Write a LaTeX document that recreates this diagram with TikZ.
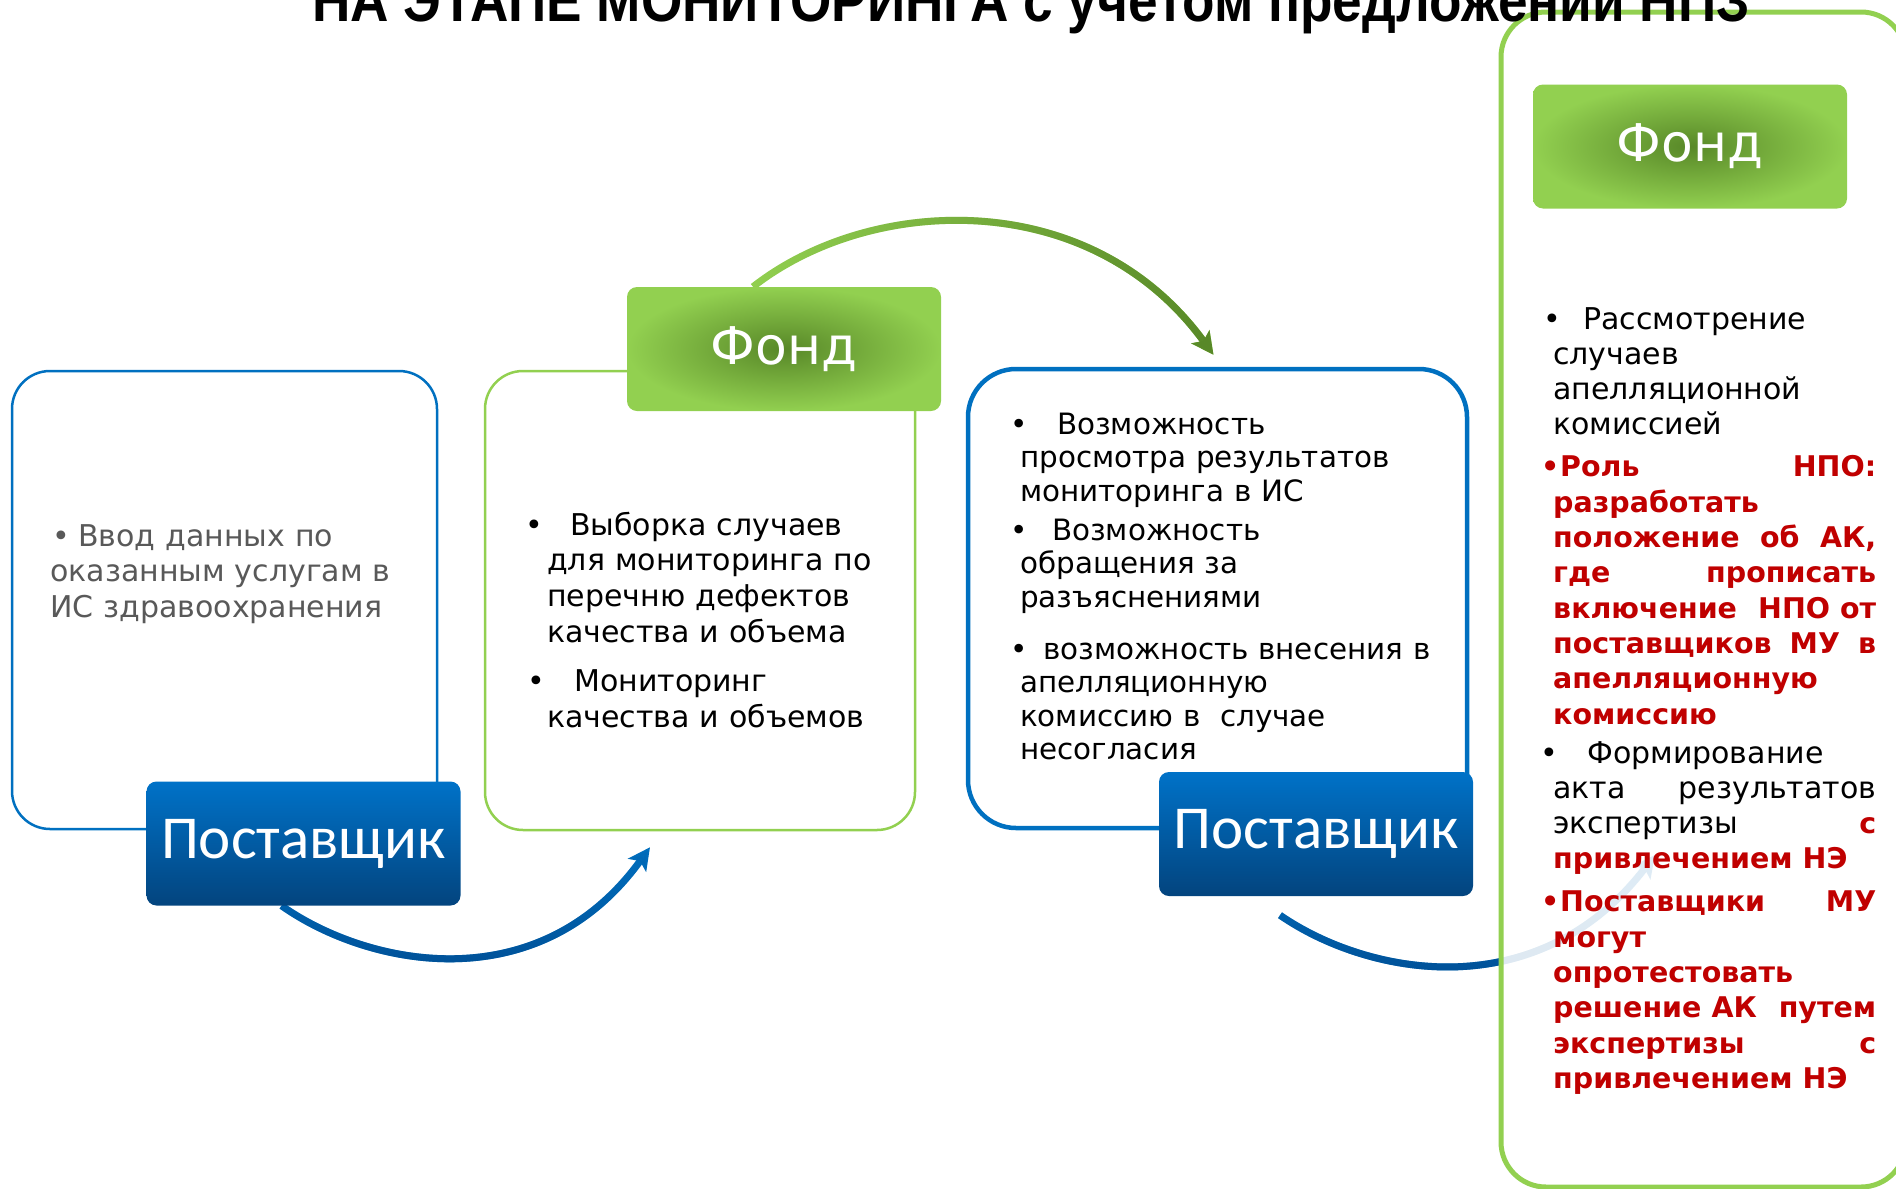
\documentclass[tikz,border=0pt]{standalone}
\usepackage{fontspec}
\usepackage{graphicx}
\setmainfont{DejaVu Sans}
\newfontfamily\headfont{Carlito}
\newfontfamily\titlefont{Liberation Sans}
\usetikzlibrary{arrows.meta, fadings, backgrounds}

\definecolor{blueline}{RGB}{0,112,192}
\definecolor{greenline}{RGB}{146,208,80}
\definecolor{greendark}{RGB}{88,136,40}
\definecolor{bluetop}{RGB}{0,114,200}
\definecolor{bluebottom}{RGB}{3,68,126}
\definecolor{bluedark}{RGB}{0,72,140}
\definecolor{npored}{RGB}{192,0,0}
\definecolor{graytext}{RGB}{89,89,89}

% bullet: shift from the margin, then start of the text
\newcommand{\bul}[2]{\hspace*{#1}\makebox[\dimexpr#2-#1\relax][l]{•}}
\newcommand{\hl}{\color{npored}\bfseries\fontsize{28.5}{35.3}\selectfont}

\begin{document}
\begin{tikzpicture}[x=1pt, y=-1pt,
    % Define the style for each block
    stagebox/.style={rectangle, draw, fill=white, inner sep=0pt},
    fondhead/.style={rectangle, rounded corners=10pt, minimum width=314pt, minimum height=124pt, inner color=greendark, outer color=greenline, text=white, font=\fontsize{52}{60}\selectfont},
    supplierhead/.style={rectangle, rounded corners=10pt, minimum width=314pt, minimum height=124pt, top color=bluetop, bottom color=bluebottom, text=white, font=\headfont\fontsize{61}{66}\selectfont},
    bodytext/.style={align=left, inner sep=0pt, anchor=base west},
    connector/.style={line width=7pt, -{Stealth[length=22pt, width=22pt, inset=5pt]}},
    greenarc/.style={connector, draw=greenline, postaction={draw=greendark, path fading=west}},
    bluearc/.style={connector, draw=blueline, postaction={draw=bluedark, path fading=north}}
]
\useasboundingbox (0,0) rectangle (1896,1189);

% Stage frames
\node [stagebox, draw=blueline, line width=2.5pt, rounded corners=38pt, minimum width=425pt, minimum height=458pt] (box1) at (224.5,600) {};
\node [stagebox, draw=greenline, line width=2.5pt, rounded corners=38pt, minimum width=430pt, minimum height=459pt] (box2) at (700,600.5) {};
\node [stagebox, draw=blueline, line width=4.5pt, rounded corners=48pt, minimum width=499pt, minimum height=459pt] (box3) at (1217.5,598.5) {};

% Headers
\node [supplierhead] (post1) at (303.5,843.5) {Поставщик};
\node [fondhead] (fond2) at (784,349) {\raisebox{-5pt}{Фонд}};
\node [supplierhead] (post2) at (1316,834) {Поставщик};

% Right frame
\node [stagebox, draw=greenline, line width=5pt, fill opacity=0.87, rounded corners=45pt, minimum width=405pt, minimum height=1175pt] (npbox) at (1703.5,599.5) {};
\node [fondhead] (fond3) at (1690,146.5) {\raisebox{-5pt}{Фонд}};
\coordinate (arc2end) at (1655,855);

% Title
\node [anchor=base, font=\titlefont\bfseries\fontsize{60}{66}\selectfont] (title) at (1031,21) {\scalebox{0.886}[1]{НА ЭТАПЕ МОНИТОРИНГА с учетом предложений НПЗ}};

% Texts
\node [bodytext, text width=360pt, text=graytext, font=\fontsize{30}{35.5}\selectfont] (txt1) at (50,546) {\bul{2.5pt}{28pt}Ввод данных по\\ оказанным услугам в\\ ИС здравоохранения};

\node [bodytext, text width=360pt, font=\fontsize{30}{35.7}\selectfont] (txt2) at (547,535) {\bul{-21.5pt}{23pt}Выборка случаев\\ для мониторинга по\\ перечню дефектов\\ качества и объема\\[14pt] \bul{-19.5pt}{27pt}Мониторинг\\ качества и объемов};

\node [bodytext, text width=440pt, font=\fontsize{29.4}{33.5}\selectfont] (txt3) at (1020,434) {\bul{-9.5pt}{37pt}Возможность\\ просмотра результатов\\ мониторинга в ИС\\[5.5pt] \bul{-9.5pt}{32pt}Возможность\\ обращения за\\ разъяснениями\\[18.5pt] \bul{-9.5pt}{23pt}возможность внесения в\\ апелляционную\\ комиссию в\ \ случае\\ несогласия};

\node [bodytext, text width=323pt, font=\fontsize{30}{35.3}\selectfont] (txt4) at (1553,329) {\bul{-9.5pt}{30pt}Рассмотрение\\ случаев\\ апелляционной\\ комиссией\\[6.7pt]
{\hl\bul{-12pt}{7pt}Роль \hfill НПО:\\ разработать\\ положение \hfill об \hfill АК,\\ где \hfill прописать\\ включение \hfill НПО от\\ поставщиков \hfill МУ \hfill в\\ апелляционную\\ комиссию}\\[3.7pt]
\bul{-12.5pt}{34pt}Формирование\\ акта \hfill результатов\\ экспертизы \hfill {\hl с}\\ {\hl привлечением НЭ}\\[7.7pt]
{\hl\bul{-12pt}{7pt}Поставщики \hfill МУ\\ могут\\ опротестовать\\ решение АК \hfill путем\\ экспертизы \hfill с\\ привлечением НЭ}};

% Connectors
\begin{pgfonlayer}{background}
\draw [greenarc] ([xshift=-31pt]fond2.north) .. controls (870,195) and (1090,185) .. ([xshift=-4pt,yshift=12pt]box3.north);
\draw [bluearc] ([xshift=-22pt]post1.south) .. controls (370,968) and (540,1000) .. ([xshift=-50pt,yshift=-16pt]box2.south);
\draw [bluearc] ([xshift=-36pt,yshift=-19pt]post2.south) .. controls (1368,976) and (1538,1008) .. (arc2end);
\end{pgfonlayer}
\end{tikzpicture}
\end{document}
